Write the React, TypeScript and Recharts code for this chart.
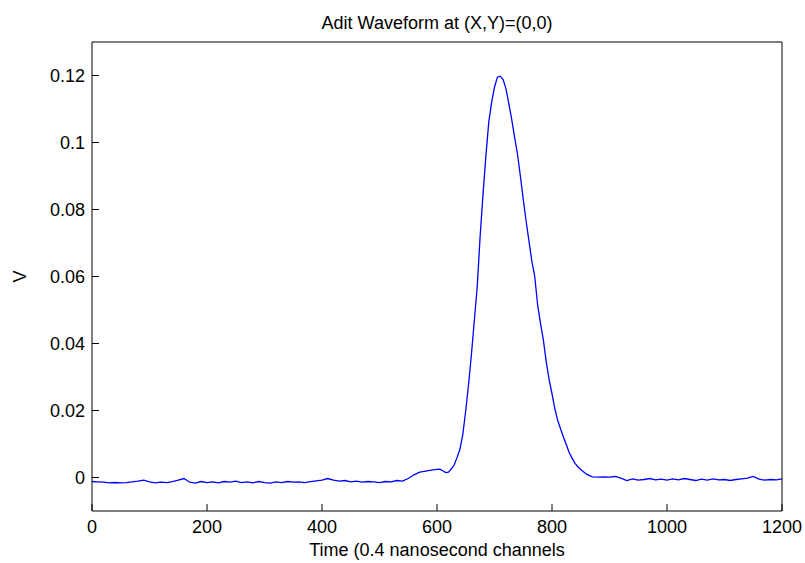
import { Line, LineChart, XAxis, YAxis } from "recharts";

// time axis, 0.4 ns channels
const channels = [
  0, 10, 20, 30, 40, 50, 60, 70, 80, 90, 100, 110, 120, 130, 140, 150, 160, 170, 180, 190,
  200, 210, 220, 230, 240, 250, 260, 270, 280, 290, 300, 310, 320, 330, 340, 350, 360, 370, 380, 390,
  400, 410, 420, 430, 440, 450, 460, 470, 480, 490, 500, 510, 520, 530, 540, 550, 560, 570, 580, 590,
  600, 605, 610, 615, 620, 625, 630, 635, 640, 645, 650, 655, 660, 665, 670, 675, 680, 685, 690, 695,
  700, 705, 710, 715, 720, 725, 730, 735, 740, 745, 750, 755, 760, 765, 770, 775, 780, 785, 790, 795,
  800, 805, 810, 815, 820, 825, 830, 835, 840, 845, 850, 860, 870, 880, 890, 900, 910, 920, 930, 940,
  950, 960, 970, 980, 990, 1000, 1010, 1020, 1030, 1040, 1050, 1060, 1070, 1080, 1090, 1100, 1110, 1120, 1130, 1140,
  1150, 1160, 1170, 1180, 1190, 1200,
];

const volts = [
  -0.0012, -0.0013, -0.0014, -0.0016, -0.0015, -0.0016, -0.0015, -0.0013, -0.0011, -0.0008, -0.0013, -0.0016, -0.0014, -0.0015, -0.0012, -0.0008, -0.0003, -0.0014, -0.0017, -0.0012,
  -0.0015, -0.0013, -0.0016, -0.0012, -0.0014, -0.0011, -0.0015, -0.0013, -0.0016, -0.0012, -0.0015, -0.0017, -0.0013, -0.0015, -0.0012, -0.0014, -0.0013, -0.0015, -0.0012, -0.001,
  -0.0008, -0.0003, -0.0008, -0.0011, -0.0009, -0.0013, -0.0011, -0.0014, -0.0012, -0.0013, -0.0015, -0.0012, -0.0013, -0.0009, -0.0011, -0.0003, 0.0008, 0.0016, 0.0019, 0.0022,
  0.0024, 0.0025, 0.002, 0.0015, 0.0016, 0.0026, 0.0038, 0.006, 0.0085, 0.013, 0.02, 0.028, 0.037, 0.047, 0.057, 0.072, 0.0845, 0.096, 0.106, 0.112,
  0.1165, 0.1195, 0.1198, 0.1188, 0.116, 0.1115, 0.1068, 0.1015, 0.0965, 0.09, 0.083, 0.0765, 0.0705, 0.0645, 0.06, 0.0515, 0.046, 0.041, 0.0345, 0.0292,
  0.025, 0.0205, 0.017, 0.0145, 0.012, 0.0098, 0.0074, 0.0058, 0.0042, 0.0032, 0.0024, 0.001, 0.0002, 0.0001, 0.0002, 0.0001, 0.0003, -0.0002, -0.0009, -0.0004,
  -0.0008, -0.0006, -0.0003, -0.0007, -0.0005, -0.0008, -0.0004, -0.0007, -0.0003, -0.0006, -0.0009, -0.0005, -0.0008, -0.0004, -0.0007, -0.0006, -0.0009, -0.0006, -0.0004, -0.0002,
  0.0003, -0.0005, -0.0008, -0.0006, -0.0007, -0.0004,
];

const xTicks = [0, 200, 400, 600, 800, 1000, 1200];
const yTicks = [0, 0.02, 0.04, 0.06, 0.08, 0.1, 0.12];

const data = channels.map((t, i) => ({ t, v: volts[i] }));

const font = "'Liberation Sans', Arial, sans-serif";
const tickStyle = { fill: "#000", fontSize: 18, fontFamily: font };
const labelStyle = { fill: "#000", fontSize: 18, fontFamily: font };

export default function App() {
  return (
    <div style={{ position: "absolute", left: 0, top: 0, background: "#fff" }}>
      <LineChart
        width={805}
        height={563}
        data={data}
        margin={{ top: 41, right: 22, bottom: 2, left: 12 }}
      >
        <XAxis
          dataKey="t"
          type="number"
          domain={[0, 1200]}
          ticks={xTicks}
          interval={0}
          height={50}
          stroke="#000"
          tickSize={-7}
          tickMargin={16}
          tick={tickStyle}
          label={{
            value: "Time (0.4 nanosecond channels",
            position: "insideBottom",
            offset: 5,
            style: labelStyle,
          }}
        />
        <XAxis
          xAxisId="top"
          orientation="top"
          dataKey="t"
          type="number"
          domain={[0, 1200]}
          ticks={xTicks}
          interval={0}
          height={1}
          stroke="#000"
          tickSize={-7}
          tick={false}
          label={{
            value: "Adit Waveform at (X,Y)=(0,0)",
            position: "top",
            offset: 12,
            style: labelStyle,
          }}
        />
        <YAxis
          type="number"
          domain={[-0.01, 0.13]}
          ticks={yTicks}
          interval={0}
          width={80}
          stroke="#000"
          tickSize={-7}
          tickMargin={14}
          tick={tickStyle}
          tickFormatter={(value: number) => String(Number(value.toFixed(2)))}
          label={{
            value: "V",
            angle: -90,
            position: "center",
            dx: -32,
            style: labelStyle,
          }}
        />
        <YAxis
          yAxisId="right"
          orientation="right"
          type="number"
          domain={[-0.01, 0.13]}
          ticks={yTicks}
          interval={0}
          width={1}
          stroke="#000"
          tickSize={-7}
          tick={false}
        />
        <Line
          dataKey="v"
          type="linear"
          stroke="#0000ff"
          strokeWidth={1.3}
          dot={false}
          isAnimationActive={false}
        />
        {/* invisible copy so the frame axes on top/right get drawn */}
        <Line
          xAxisId="top"
          yAxisId="right"
          dataKey="v"
          stroke="none"
          dot={false}
          activeDot={false}
          legendType="none"
          isAnimationActive={false}
        />
      </LineChart>
    </div>
  );
}
